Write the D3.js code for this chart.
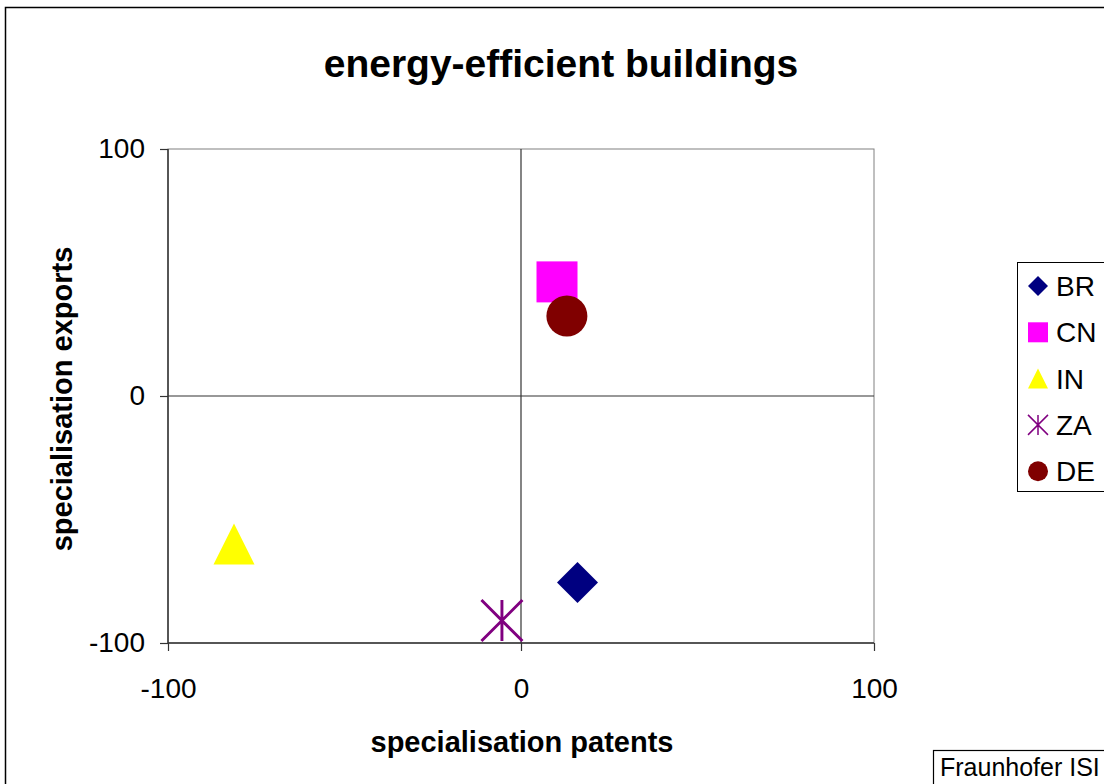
<!DOCTYPE html>
<html><head><meta charset="utf-8">
<script src="https://cdn.jsdelivr.net/npm/d3@7"></script>
<style>body{margin:0;background:#fff;} svg{display:block;font-family:"Liberation Sans",Arial,sans-serif;}</style>
</head><body>
<svg id="c" width="1104" height="784"></svg>
<script>
const countries = ["BR","CN","IN","ZA","DE"];
const patents = [16.0, 10.2, -81.3, -5.4, 13.0];
const exportsV = [-75.5, 46.2, -59.9, -90.9, 32.4];
const colors = ["#000080","#FF00FF","#FFFF00","#800080","#800000"];
const shapes = ["diamond","square","triangle","star","circle"];
const xTicks = [-100, 0, 100];
const yTicks = [-100, 0, 100];

const svg = d3.select("#c");
const x = d3.scaleLinear().domain([-100,100]).range([168,874]);
const y = d3.scaleLinear().domain([-100,100]).range([643,149]);

// outer frame
svg.append("rect").attr("x",5.5).attr("y",7.5).attr("width",1110).attr("height",800)
  .attr("fill","none").attr("stroke","#000").attr("stroke-width",1.5);

svg.append("text").attr("x",561).attr("y",77).attr("text-anchor","middle")
  .attr("font-size",39).attr("font-weight","bold").text("energy-efficient buildings");

// plot border
svg.append("rect").attr("x",x(-100)).attr("y",y(100)).attr("width",x(100)-x(-100)).attr("height",y(-100)-y(100))
  .attr("fill","none").attr("stroke","#808080").attr("stroke-width",1);

// axes
const fmt = d => String(d);
const gx = svg.append("g").attr("transform",`translate(0,${y(-100)})`)
  .call(d3.axisBottom(x).tickValues(xTicks).tickSize(8).tickPadding(27).tickFormat(fmt));
const gy = svg.append("g").attr("transform",`translate(${x(-100)},0)`)
  .call(d3.axisLeft(y).tickValues(yTicks).tickSize(8).tickPadding(15).tickFormat(fmt));
[gx,gy].forEach(g=>{
  g.selectAll("path,line").attr("stroke","#333").attr("stroke-width",1.2);
  g.selectAll("text").attr("font-size",28).attr("fill","#000").attr("font-family","Liberation Sans, Arial, sans-serif");
});
gx.select(".domain").remove(); gy.select(".domain").remove();
svg.append("line").attr("x1",x(-100)).attr("x2",x(100)).attr("y1",y(-100)).attr("y2",y(-100)).attr("stroke","#333").attr("stroke-width",1.5);
svg.append("line").attr("x1",x(-100)).attr("x2",x(-100)).attr("y1",y(100)).attr("y2",y(-100)).attr("stroke","#333").attr("stroke-width",1.5);

// crosshair at 0
svg.append("line").attr("x1",x(0)).attr("x2",x(0)).attr("y1",y(100)).attr("y2",y(-100)).attr("stroke","#333").attr("stroke-width",1.2);
svg.append("line").attr("x1",x(-100)).attr("x2",x(100)).attr("y1",y(0)).attr("y2",y(0)).attr("stroke","#333").attr("stroke-width",1.2);

// axis titles
svg.append("text").attr("x",522).attr("y",752).attr("text-anchor","middle")
  .attr("font-size",29).attr("font-weight","bold").text("specialisation patents");
svg.append("text").attr("transform",`translate(72,399) rotate(-90)`).attr("text-anchor","middle")
  .attr("font-size",29).attr("font-weight","bold").text("specialisation exports");

function drawMarker(g, shape, color, s){
  if(shape==="diamond"){
    g.append("path").attr("d",`M0,${-s}L${s},0L0,${s}L${-s},0Z`).attr("fill",color);
  } else if(shape==="square"){
    g.append("rect").attr("x",-s).attr("y",-s).attr("width",2*s).attr("height",2*s).attr("fill",color);
  } else if(shape==="triangle"){
    g.append("path").attr("d",`M0,${-s}L${s},${s}L${-s},${s}Z`).attr("fill",color);
  } else if(shape==="circle"){
    g.append("circle").attr("r",s).attr("fill",color);
  } else if(shape==="star"){
    g.append("path").attr("d",`M${-s},${-s}L${s},${s}M${s},${-s}L${-s},${s}M0,${-s}L0,${s}`)
      .attr("stroke",color).attr("stroke-width",Math.max(1.5,s/7)).attr("fill","none");
  }
}

countries.forEach((c,i)=>{
  const g = svg.append("g").attr("transform",`translate(${x(patents[i])},${y(exportsV[i])})`);
  drawMarker(g, shapes[i], colors[i], 20.5);
});

// legend
svg.append("rect").attr("x",1017.5).attr("y",262.5).attr("width",100).attr("height",229)
  .attr("fill","#fff").attr("stroke","#000").attr("stroke-width",1);
countries.forEach((c,i)=>{
  const cy = 286 + i*46.3;
  const g = svg.append("g").attr("transform",`translate(1038,${cy})`);
  drawMarker(g, shapes[i], colors[i], 10);
  svg.append("text").attr("x",1056).attr("y",cy+10).attr("font-size",28).text(c);
});

// source box
svg.append("rect").attr("x",933.5).attr("y",750.5).attr("width",200).attr("height",50)
  .attr("fill","#fff").attr("stroke","#000").attr("stroke-width",1.2);
svg.append("text").attr("x",940).attr("y",776).attr("font-size",25).text("Fraunhofer ISI");
</script>
</body></html>
